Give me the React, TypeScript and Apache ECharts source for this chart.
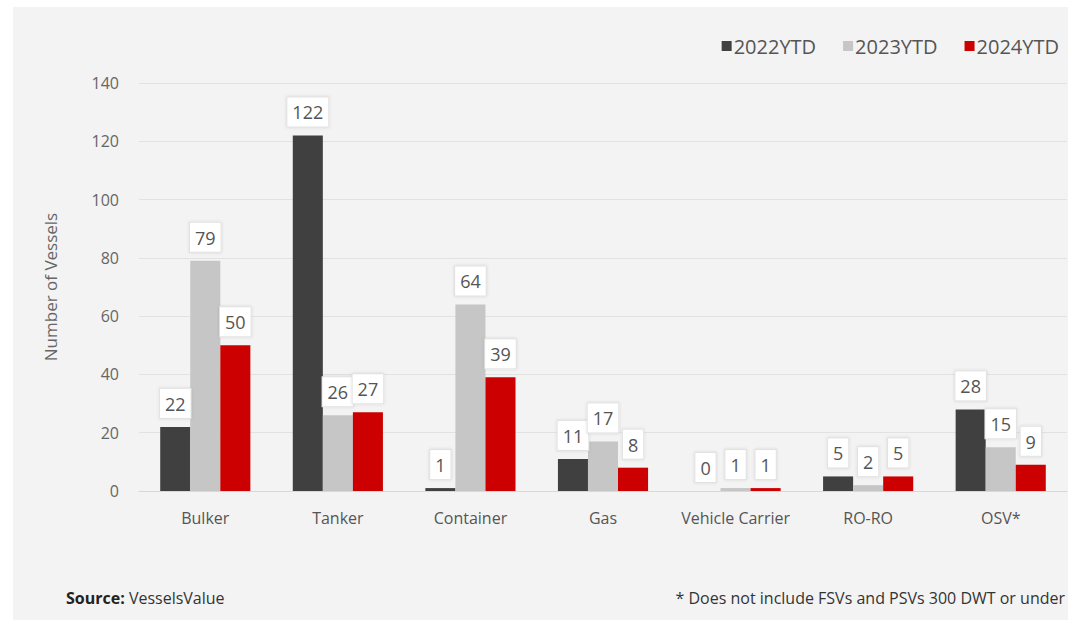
import React, { useEffect, useRef } from "react";
import * as echarts from "echarts";

const categories = ["Bulker", "Tanker", "Container", "Gas", "Vehicle Carrier", "RO-RO", "OSV*"];
const seriesNames = ["2022YTD", "2023YTD", "2024YTD"];
const values2022 = [22, 122, 1, 11, 0, 5, 28];
const values2023 = [79, 26, 64, 17, 1, 2, 15];
const values2024 = [50, 27, 39, 8, 1, 5, 9];
const colors = ["#404040", "#c6c6c6", "#cc0000"];
const yTicks = { min: 0, max: 140, interval: 20 };

const FONT = "'Open Sans', 'Noto Sans', sans-serif";

export default function App() {
  const ref = useRef<HTMLDivElement>(null);
  useEffect(() => {
    document.body.style.margin = "0";
    const chart = echarts.init(ref.current!, null, { renderer: "svg" });
    const data = [values2022, values2023, values2024];
    chart.setOption({
      animation: false,
      backgroundColor: "#ffffff",
      textStyle: { fontFamily: FONT },
      graphic: [
        {
          type: "rect",
          z: -10,
          shape: { x: 13, y: 7, width: 1055, height: 613 },
          style: { fill: "#f3f3f3" },
          silent: true,
        },
        {
          type: "text",
          left: 66,
          top: 590,
          style: {
            text: "{b|Source:} VesselsValue",
            fontSize: 16,
            fill: "#333",
            fontFamily: FONT,
            rich: { b: { fontWeight: "bold", fontSize: 16, fill: "#222", fontFamily: FONT } },
          },
        },
        {
          type: "text",
          right: 3,
          top: 590,
          style: {
            text: "* Does not include FSVs and PSVs 300 DWT or under",
            fontSize: 16,
            fill: "#333",
            fontFamily: FONT,
          },
        },
      ],
      legend: {
        top: 31,
        right: 4,
        itemWidth: 10,
        itemHeight: 10,
        itemGap: 27,
        icon: "rect",
        textStyle: { fontSize: 20, color: "#555", padding: [0, 0, 0, -3], fontFamily: FONT },
        data: seriesNames,
      },
      grid: { left: 139, right: 1, top: 83, bottom: 136 },
      xAxis: {
        type: "category",
        data: categories,
        axisLine: { lineStyle: { color: "#d8d8d8" } },
        axisTick: { show: false },
        axisLabel: { color: "#555", fontSize: 16, margin: 19, interval: 0, fontFamily: FONT },
      },
      yAxis: {
        type: "value",
        min: yTicks.min,
        max: yTicks.max,
        interval: yTicks.interval,
        name: "Number of Vessels",
        nameLocation: "middle",
        nameGap: 80,
        nameTextStyle: { color: "#666", fontSize: 17, fontFamily: FONT },
        axisLine: { show: false },
        axisTick: { show: false },
        axisLabel: { color: "#666", fontSize: 16, margin: 20, fontFamily: FONT },
        splitLine: { lineStyle: { color: "#e2e2e2", width: 1 } },
      },
      series: seriesNames.map((name, i) => ({
        name,
        type: "bar",
        data: data[i],
        barGap: "0%",
        barCategoryGap: "32%",
        itemStyle: { color: colors[i] },
        label: {
          show: true,
          position: "top",
          distance: 9,
          color: "#555",
          fontSize: 18,
          fontFamily: FONT,
          backgroundColor: "#ffffff",
          borderColor: "#e2e2e2",
          borderWidth: 1,
          padding: [6, 5, 5, 5],
          shadowColor: "rgba(0,0,0,0.12)",
          shadowBlur: 3,
        },
      })),
    });
    return () => chart.dispose();
  }, []);
  return <div ref={ref} style={{ width: 1068, height: 627 }} />;
}
